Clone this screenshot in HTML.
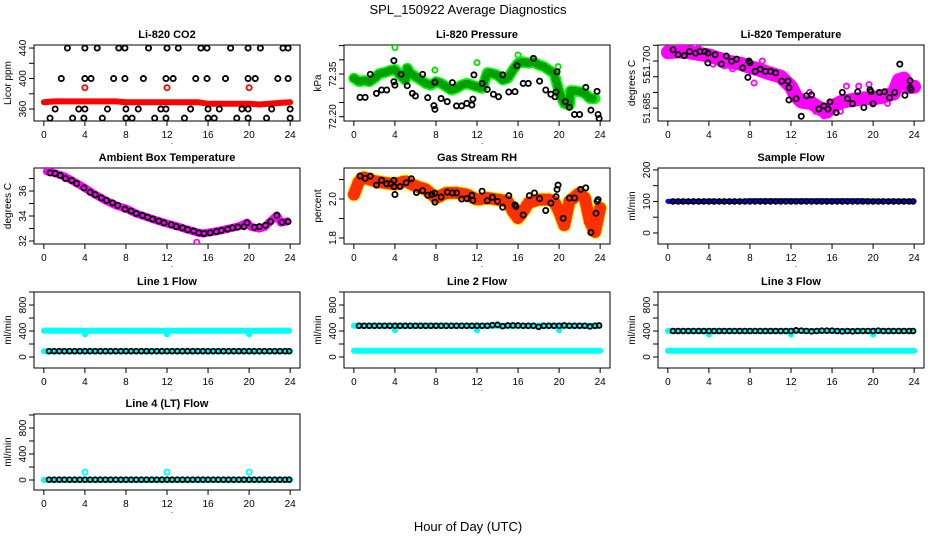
<!DOCTYPE html>
<html><head><meta charset="utf-8"><style>
html,body{margin:0;padding:0;background:#fff;}
svg{display:block;font-family:"Liberation Sans",sans-serif;}
</style></head><body>
<svg id="chart" width="936" height="540" viewBox="0 0 936 540">
<text x="468" y="14" text-anchor="middle" font-size="13">SPL_150922  Average Diagnostics</text>
<text x="468" y="531" text-anchor="middle" font-size="13">Hour of Day (UTC)</text>
</svg>
<script>
// ---------------- data ----------------
const xTicks=[0,4,8,12,16,20,24];
const h48=[0.5,1,1.5,2,2.5,3,3.5,4,4.5,5,5.5,6,6.5,7,7.5,8,8.5,9,9.5,10,10.5,11,11.5,12,12.5,13,13.5,14,14.5,15,15.5,16,16.5,17,17.5,18,18.5,19,19.5,20,20.5,21,21.5,22,22.5,23,23.5,23.9];
const h25=[0,1,2,3,4,5,6,7,8,9,10,11,12,13,14,15,16,17,18,19,20,21,22,23,24];

// CO2
const co2BandVals=[369,370,370,370,370,370,370,370,369,369,369,369,369,369,369,369,367,367,367,367,367,366,367,368,369];
const co2OutHours=[4,12,20];
const co2OutVals=[388,388,388];
const co2BlackHours=[2.3,4.0,5.2,7.3,7.9,10.2,12.0,13.1,15.3,15.9,18.2,19.9,21.1,23.3,23.8, 1.7,4.0,4.6,6.8,7.9,9.7,11.9,12.6,14.8,15.9,17.7,19.9,20.6,22.8,23.8, 1.1,3.4,4.0,6.2,8.0,9.2,11.4,11.9,14.3,16.0,17.1,19.3,19.9,22.2,24.0, 0.6,2.8,3.9,5.7,8.0,8.6,10.8,11.9,13.7,16.0,16.6,18.8,19.9,21.7,24.0];
const co2BlackVals=[440,440,440,440,440,440,440,440,440,440,440,440,440,440,440, 400,400,400,400,400,400,400,400,400,400,400,400,400,400,400, 360,360,360,360,360,360,360,360,360,360,360,360,360,360,360, 348,348,348,348,348,348,348,348,348,348,348,348,348,348,348];

// Pressure
const presBandHours=[0,0.5,1,1.5,2,2.5,3,3.5,4,4.5,5,5.2,5.5,6,6.5,7,7.5,8,8.5,9,9.5,10,10.5,11,11.5,12,12.5,13,13.5,14,14.5,15,15.5,16,16.5,17,17.5,18,18.5,19,19.5,20,20.5,21,21.1,21.5,22,22.5,23,23.5];
const presBandVals=[72.335,72.323,72.327,72.323,72.335,72.352,72.355,72.362,72.366,72.346,72.329,72.370,72.352,72.341,72.329,72.317,72.311,72.323,72.317,72.305,72.294,72.300,72.311,72.317,72.311,72.305,72.300,72.355,72.352,72.346,72.329,72.335,72.364,72.388,72.393,72.388,72.393,72.382,72.376,72.364,72.352,72.288,72.247,72.241,72.291,72.291,72.288,72.282,72.264,72.264];
const presOutHours=[4.0,12.0,7.9,16.0,19.9];
const presOutVals=[72.443,72.390,72.364,72.417,72.376];
const presBlackHours=[0.6,1.1,1.6,2.2,2.7,3.2,3.9,3.9,4.0,4.6,5.2,5.7,6.0,6.7,7.2,7.8,7.9,7.9,8.5,9.1,9.6,10.0,10.5,11.0,11.5,11.6,11.7,12.5,13.0,13.6,14.1,14.5,15.1,15.7,15.9,16.5,17.0,17.5,18.1,18.7,19.2,19.6,19.7,19.8,20.6,21.0,21.5,22.0,22.6,23.1,23.7,23.8,23.9];
const presBlackVals=[72.268,72.268,72.349,72.282,72.294,72.294,72.323,72.397,72.311,72.349,72.309,72.282,72.273,72.349,72.267,72.239,72.226,72.321,72.264,72.253,72.320,72.238,72.238,72.247,72.241,72.262,72.347,72.317,72.296,72.279,72.270,72.347,72.287,72.288,72.379,72.317,72.317,72.405,72.325,72.294,72.279,72.270,72.287,72.358,72.253,72.233,72.208,72.208,72.303,72.223,72.289,72.208,72.194];

// Li-820 temperature
const tempBandHours=[0,1,2,3,4,5,6,7,8,9,10,11,12,12.5,13,14,15,15.5,16,17,18,19,20,21,22,22.5,23,23.5,24];
const tempBandVals=[51.7028,51.7031,51.7028,51.7023,51.7018,51.7007,51.6997,51.6992,51.6981,51.6971,51.6960,51.6950,51.6918,51.6887,51.6871,51.6866,51.6845,51.6839,51.6855,51.6871,51.6876,51.6881,51.6881,51.6887,51.6897,51.6939,51.6944,51.6918,51.6918];
const tempScatHours=[1.5,3.0,5.5,7.8,9.2,10.6,11.3,13.8,15.2,17.4,18.6,19.6,16.8,21.4,22.9,8.4,6.3,14.4,2.6,4.4];
const tempScatVals=[51.7050,51.7040,51.6985,51.6985,51.7000,51.6965,51.6940,51.6900,51.6825,51.6920,51.6920,51.6925,51.6840,51.6865,51.6910,51.6930,51.6975,51.6840,51.7045,51.6990];
const tempBlackHours=[0.5,1.0,1.6,2.1,2.7,3.1,3.6,3.9,3.9,4.6,5.2,5.7,6.2,6.7,7.3,7.8,7.9,8.0,8.5,9.0,9.5,10.0,10.5,11.1,11.7,11.8,11.8,12.5,13.0,13.5,14.0,14.7,15.2,15.6,15.8,16.4,17.0,17.5,18.0,18.5,19.1,19.7,19.8,20.0,20.6,21.1,21.6,22.1,22.6,23.1,23.6,23.6,23.7];
const tempBlackVals=[51.7036,51.7020,51.7017,51.7030,51.7025,51.7030,51.7030,51.7025,51.6994,51.7020,51.6990,51.7016,51.6999,51.7006,51.6978,51.6948,51.7000,51.6994,51.6967,51.6974,51.6967,51.6967,51.6962,51.6936,51.6936,51.6915,51.6876,51.6880,51.6824,51.6889,51.6892,51.6847,51.6857,51.6847,51.6870,51.6836,51.6900,51.6880,51.6864,51.6902,51.6852,51.6908,51.6902,51.6864,51.6900,51.6902,51.6883,51.6900,51.6990,51.6891,51.6937,51.6915,51.6908];

// Ambient box temperature
const ambBandHours=[0.3,1,2,3,4,5,6,7,8,9,10,11,12,13,14,15,15.5,16,17,18,19,19.8,20.2,21,21.5,22,22.7,23.1,23.7];
const ambBandVals=[37.57,37.44,37.17,36.72,36.24,35.71,35.25,34.85,34.59,34.19,33.92,33.65,33.39,33.17,32.91,32.67,32.59,32.67,32.80,32.99,33.17,33.47,33.12,32.99,33.12,33.52,34.05,33.47,33.57];
const ambBlackHours=[0.6,1.1,1.6,2.1,2.7,3.2,3.9,4.5,5.0,5.6,6.1,6.7,7.2,7.9,8.5,9.0,9.6,10.1,10.6,11.2,11.7,12.4,12.9,13.5,14.0,14.6,15.1,15.6,16.2,16.8,17.3,17.9,18.4,18.9,19.5,19.8,20.5,21.0,21.6,22.1,22.7,23.2,23.8];
const ambBlackVals=[37.45,37.40,37.25,37.00,36.85,36.60,36.25,35.90,35.70,35.45,35.25,35.05,34.85,34.55,34.40,34.20,34.05,33.90,33.75,33.60,33.45,33.30,33.15,33.05,32.90,32.80,32.65,32.60,32.65,32.75,32.85,32.95,33.05,33.12,33.15,33.45,33.10,33.15,33.25,33.55,34.05,33.50,33.55];
const ambOutHours=[14.9];
const ambOutVals=[31.9];

// Gas stream RH
const rhBandHours=[0,0.5,1,2,3,4,5,6,7,8,9,10,11,12,13,14,15,15.5,16,16.5,17,18,19,19.5,20,20.5,21,22,22.5,23,23.5,24];
const rhBandVals=[2.023,2.092,2.110,2.092,2.083,2.075,2.092,2.066,2.049,2.005,2.031,2.031,2.023,1.997,2.005,1.997,1.988,1.936,1.901,1.936,1.979,1.997,1.997,1.988,1.936,1.866,1.988,2.031,2.005,1.883,1.831,1.953];
const rhBlackHours=[0.6,1.1,1.6,2.2,2.7,3.2,3.6,3.9,3.9,4.0,4.5,5.1,5.6,6.1,6.7,7.2,7.6,7.9,7.9,8.5,9.1,9.6,10.0,10.5,11.0,11.5,11.6,12.5,13.0,13.5,14.0,14.5,15.1,15.7,15.8,16.5,17.1,17.6,18.1,18.7,19.2,19.7,19.8,19.9,20.4,21.0,21.5,22.1,22.6,23.1,23.6,23.7,23.8];
const rhBlackVals=[2.118,2.106,2.117,2.071,2.096,2.078,2.078,2.096,2.064,2.023,2.064,2.083,2.104,2.033,2.043,2.019,2.023,2.030,1.984,2.010,2.035,2.031,2.031,2.000,2.002,2.019,1.993,2.040,1.991,2.009,1.988,1.958,2.017,1.970,1.962,1.918,2.017,2.031,2.002,1.941,1.979,2.012,2.049,2.071,1.901,2.005,2.005,2.049,2.057,1.828,1.927,1.988,1.997];

// Sample flow
const sfBandVals=[100,100,100,100,101,100,100,100,102,102,102,102,102,102,102,102,102,102,102,102,101,101,101,101,101];
const sfBlackVals=[100,100,100,100,100,100,100,100,100,100,100,100,100,100,100,100,100,100,100,100,100,100,100,100,100,100,100,100,100,100,100,100,100,100,100,100,100,100,100,100,100,100,100,100,100,100,100,100];

// Line flows
const lfHighHours=[0,3.9,4,4.1,11.9,12,12.1,19.9,20,20.1,23.9];
const l1HighVals=[405,405,350,405,405,350,405,405,350,405,405];
const l1LowVals=[90,90,90,90,90,90,90,90,90,90,90,90,90,90,90,90,90,90,90,90,90,90,90,90,90];
const l1BlackVals=[90,90,90,90,90,90,90,90,90,90,90,90,90,90,90,90,90,90,90,90,90,90,90,90,90,90,90,90,90,90,90,90,90,90,90,90,90,90,90,90,90,90,90,90,90,90,90,90];
const l2HighVals=[480,480,410,480,480,410,480,480,410,480,480];
const l2LowVals=[95,95,95,95,95,95,95,95,95,95,95,95,95,95,95,95,95,95,95,95,95,95,95,95,95];
const l2BlackVals=[480,480,480,480,480,480,480,480,480,480,480,480,480,480,480,480,480,480,480,480,480,480,480,480,480,480,490,495,475,485,485,485,480,480,480,465,480,480,480,480,485,480,480,480,480,470,480,485];
const l3HighVals=[400,400,345,400,400,345,400,400,345,400,400];
const l3LowVals=[95,95,95,95,95,95,95,95,95,95,95,95,95,95,95,95,95,95,95,95,95,95,95,95,95];
const l3BlackVals=[400,400,400,400,400,400,400,400,400,400,400,400,400,400,400,400,400,400,400,400,400,400,400,400,410,405,400,395,400,405,405,405,400,395,400,395,400,400,400,400,405,400,400,400,400,400,400,400];
const l4CyanVals=[0,0,0,0,0,0,0,0,0,0,0,0,0,0,0,0,0,0,0,0,0,0,0,0,0];
const l4OutHours=[4,12,20];
const l4OutVals=[120,120,120];
const l4BlackVals=[5,5,5,5,5,5,5,5,5,5,5,5,5,5,5,5,5,5,5,5,5,5,5,5,5,5,5,5,5,5,5,5,5,5,5,5,5,5,5,5,5,5,5,5,5,5,5,5];

// ---------------- drawing ----------------
const NS='http://www.w3.org/2000/svg';
const svg=document.getElementById('chart');
function mk(tag,attrs,parent){const e=document.createElementNS(NS,tag);for(const k in attrs)e.setAttribute(k,attrs[k]);(parent||svg).appendChild(e);return e;}
const colL=[34,344,658], rowT=[45,168,292,414], W=266, H=76;

function panel(col,row,title,ylab,y0,y1,yTicks,yLabels,name){
  const L=colL[col],T=rowT[row];
  const g=mk('g',{});
  
  
  const sx=h=>L+(h+0.96)/25.92*W;
  const sy=v=>T+H-(v-y0)/(y1-y0)*H;
  const box=mk('rect',{x:L,y:T,width:W,height:H,fill:'none',stroke:'#000','stroke-width':1},g);
  
  
  const t=mk('text',{x:L+W/2,y:T-7,'text-anchor':'middle','font-size':11,'font-weight':'bold'},g);
  t.textContent=title;
  
  
  const yl=mk('text',{transform:`translate(${L-23},${T+H/2}) rotate(-90)`,'text-anchor':'middle','font-size':10},g);
  yl.textContent=ylab;
  
  
  xTicks.forEach(h=>{
    mk('line',{x1:sx(h),x2:sx(h),y1:T+H,y2:T+H+5,stroke:'#000'},g);
    const tx=mk('text',{x:sx(h),y:T+H+17,'text-anchor':'middle','font-size':10},g);
    tx.textContent=h;
    
    
  });
  const dot=mk('text',{x:L+W/2+5,y:T+H+23,'text-anchor':'middle','font-size':8},g);
  dot.textContent='.';
  
  
  yTicks.forEach(v=>{mk('line',{x1:L,x2:L-5,y1:sy(v),y2:sy(v),stroke:'#000'},g);});
  yLabels.forEach(([v,s])=>{
    const ty=mk('text',{transform:`translate(${L-8},${sy(v)}) rotate(-90)`,'text-anchor':'middle','font-size':10},g);
    ty.textContent=s;
    
    
  });
  const clip='clip-'+name;
  const cp=mk('clipPath',{id:clip},g);mk('rect',{x:L,y:T,width:W,height:H},cp);
  const marks=mk('g',{'clip-path':`url(#${clip})`},g);
  
  
  return {sx,sy,g:marks,name};
}
function band(p,hs,vs,color,w,dash){
  const d=hs.map((h,i)=>(i?'L':'M')+p.sx(h).toFixed(1)+','+p.sy(vs[i]).toFixed(1)).join('');
  const a={d:d,fill:'none',stroke:color,'stroke-width':w,'stroke-linecap':'round','stroke-linejoin':'round'};
  if(dash)a['stroke-dasharray']=dash;
  const e=mk('path',a,p.g);
  
  
}
function pts(p,hs,vs,color,r,sw){
  hs.forEach((h,i)=>{
    const c=mk('circle',{cx:p.sx(h),cy:p.sy(vs[i]),r:r||2.6,fill:'none',stroke:color,'stroke-width':sw||1.8},p.g);
    
    
  });
}
// CO2
let p=panel(0,0,'Li-820 CO2','Licor ppm',344.3,444,[360,380,400,420,440],[[360,'360'],[400,'400'],[440,'440']],'co2');
band(p,h25,co2BandVals,'#ff0000',6);
pts(p,co2OutHours,co2OutVals,'#ff0000');
pts(p,co2BlackHours,co2BlackVals,'#000');
// Pressure
p=panel(1,0,'Li-820 Pressure','kPa',72.185,72.452,[72.20,72.25,72.30,72.35,72.40,72.45],[[72.20,'72.20'],[72.35,'72.35']],'pressure');
band(p,presBandHours,presBandVals,'#00ff00',11);
band(p,presBandHours,presBandVals,'#00a000',8,'1 3');
pts(p,presOutHours,presOutVals,'#00e000');
pts(p,presBlackHours,presBlackVals,'#000');
// Li-820 temperature
p=panel(2,0,'Li-820 Temperature','degrees C',51.6809,51.7051,[51.685,51.690,51.695,51.700,51.705],[[51.685,'51.685'],[51.695,'51.'],[51.700,'51.700']],'li820-temp');
band(p,tempBandHours,tempBandVals,'#ff00ff',14);
pts(p,tempScatHours,tempScatVals,'#ff00ff');
pts(p,tempBlackHours,tempBlackVals,'#000');
// Ambient
p=panel(0,1,'Ambient Box Temperature','degrees C',31.76,37.84,[32,33,34,35,36,37],[[32,'32'],[34,'34'],[36,'36']],'ambient-temp');
band(p,ambBandHours,ambBandVals,'#ff00ff',8);
pts(p,ambOutHours,ambOutVals,'#ff00ff');
pts(p,ambBlackHours,ambBlackVals,'#000');
// RH
p=panel(1,1,'Gas Stream RH','percent',1.769,2.159,[1.8,1.9,2.0,2.1],[[1.8,'1.8'],[2.0,'2.0']],'gas-rh');
band(p,rhBandHours,rhBandVals,'#ffee00',14);
band(p,rhBandHours,rhBandVals,'#ff3000',12,'1 3');
pts(p,rhBlackHours,rhBlackVals,'#000');
// Sample flow
p=panel(2,1,'Sample Flow','ml/min',-35,206,[0,50,100,150,200],[[0,'0'],[100,'100'],[200,'200']],'sample-flow');
band(p,h25,sfBandVals,'#0000ff',5);
pts(p,h48,sfBlackVals,'#000',2.4);
// Line flows
const flowTicks=[0,200,400,600,800,1000], flowLabels=[[0,'0'],[400,'400'],[800,'800']];
p=panel(0,2,'Line 1 Flow','ml/min',-169,1000,flowTicks,flowLabels,'line1-flow');
band(p,lfHighHours,l1HighVals,'#00ffff',6);band(p,h25,l1LowVals,'#00ffff',6);
pts(p,h48,l1BlackVals,'#000',2.4);
p=panel(1,2,'Line 2 Flow','ml/min',-169,1000,flowTicks,flowLabels,'line2-flow');
band(p,lfHighHours,l2HighVals,'#00ffff',6);band(p,h25,l2LowVals,'#00ffff',6);
pts(p,h48,l2BlackVals,'#000',2.4);
p=panel(2,2,'Line 3 Flow','ml/min',-169,1000,flowTicks,flowLabels,'line3-flow');
band(p,lfHighHours,l3HighVals,'#00ffff',6);band(p,h25,l3LowVals,'#00ffff',6);
pts(p,h48,l3BlackVals,'#000',2.4);
p=panel(0,3,'Line 4 (LT) Flow','ml/min',-154,1015,flowTicks,flowLabels,'line4-flow');
band(p,h25,l4CyanVals,'#00ffff',6);
pts(p,l4OutHours,l4OutVals,'#00ffff');
pts(p,h48,l4BlackVals,'#000',2.4);
</script>
</body></html>
